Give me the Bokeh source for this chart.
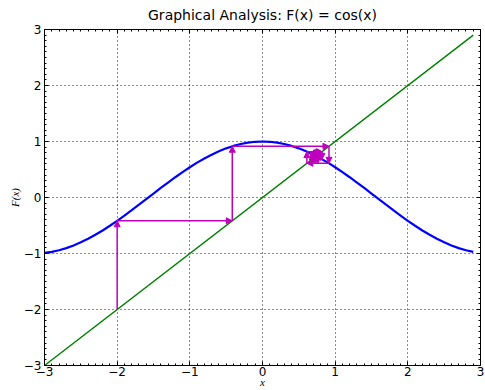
from bokeh.plotting import figure
from bokeh.models import (Range1d, Arrow, NormalHead, ColumnDataSource,
                          LinearAxis, SingleIntervalTicker, FixedTicker)
from bokeh.embed import file_html
from bokeh.resources import INLINE

# ---- data ----
x_curve = [-3.0, -2.9, -2.8, -2.7, -2.6, -2.5, -2.4, -2.3, -2.2, -2.1,
           -2.0, -1.9, -1.8, -1.7, -1.6, -1.5, -1.4, -1.3, -1.2, -1.1,
           -1.0, -0.9, -0.8, -0.7, -0.6, -0.5, -0.4, -0.3, -0.2, -0.1,
           0.0, 0.1, 0.2, 0.3, 0.4, 0.5, 0.6, 0.7, 0.8, 0.9,
           1.0, 1.1, 1.2, 1.3, 1.4, 1.5, 1.6, 1.7, 1.8, 1.9,
           2.0, 2.1, 2.2, 2.3, 2.4, 2.5, 2.6, 2.7, 2.8, 2.9]
y_curve = [-0.990, -0.971, -0.942, -0.904, -0.857, -0.801, -0.737, -0.666, -0.589, -0.505,
           -0.416, -0.323, -0.227, -0.129, -0.029, 0.071, 0.170, 0.267, 0.362, 0.454,
           0.540, 0.622, 0.697, 0.765, 0.825, 0.878, 0.921, 0.955, 0.980, 0.995,
           1.000, 0.995, 0.980, 0.955, 0.921, 0.878, 0.825, 0.765, 0.697, 0.622,
           0.540, 0.454, 0.362, 0.267, 0.170, 0.071, -0.029, -0.129, -0.227, -0.323,
           -0.416, -0.505, -0.589, -0.666, -0.737, -0.801, -0.857, -0.904, -0.942, -0.971]
x_diag = [-3.0, 2.9]
y_diag = [-3.0, 2.9]
iterates = [-2.0, -0.416, 0.915, 0.611, 0.819, 0.683, 0.776, 0.714,
            0.756, 0.728, 0.747, 0.734, 0.743, 0.737, 0.741, 0.738]
tick_values = [-3, -2, -1, 0, 1, 2, 3]
tick_labels = ["\u22123", "\u22122", "\u22121", "0", "1", "2", "3"]
title_text = "Graphical Analysis: F(x) = cos(x)"
x_label = "x"
y_label = "F(x)"

BLUE = "#0000ff"
GREEN = "#008000"
MAG = "#bf00bf"

p = figure(width=485, height=390, x_range=Range1d(-3, 3), y_range=Range1d(-3, 3),
           output_backend="svg", toolbar_location=None,
           min_border_left=44, min_border_right=5, min_border_top=29, min_border_bottom=22,
           background_fill_color="white", border_fill_color="white")
p.outline_line_color = "black"
p.outline_line_width = 1
p.outline_line_alpha = 1

p.title.text = title_text
p.title.text_font = "DejaVu Sans"
p.title.text_font_size = "14px"
p.title.text_font_style = "normal"
p.title.text_color = "black"
p.title.align = "center"
p.title.vertical_align = "top"
p.title.standoff = 10

overrides = {v: s for v, s in zip(tick_values, tick_labels)}


def style_axis(ax):
    ax.ticker = SingleIntervalTicker(interval=1, num_minor_ticks=10)
    ax.major_tick_in = 4
    ax.major_tick_out = 0
    ax.minor_tick_in = 2
    ax.minor_tick_out = 0
    ax.axis_line_color = "black"
    ax.major_tick_line_color = "black"
    ax.minor_tick_line_color = "black"
    ax.major_label_text_font = "DejaVu Sans"
    ax.major_label_text_font_size = "12px"
    ax.major_label_text_color = "black"
    ax.axis_label_text_font = "Liberation Serif"
    ax.axis_label_text_font_style = "italic"
    ax.axis_label_text_font_size = "11px"
    ax.axis_label_text_color = "black"


xa = p.xaxis[0]
style_axis(xa)
xa.major_label_overrides = overrides
xa.major_label_standoff = 1
xa.axis_label = x_label
xa.axis_label_standoff = -3

ya = p.yaxis[0]
style_axis(ya)
ya.major_label_overrides = overrides
ya.major_label_standoff = 3
ya.axis_label = y_label
ya.axis_label_standoff = 0

# tick marks only (no labels) on the top and right edges
minor_positions = [round(t + k / 10, 1) for t in tick_values[:-1] for k in range(1, 10)]
for loc in ("above", "right"):
    for positions, length in ((tick_values, 4), (minor_positions, 2)):
        ax = LinearAxis(ticker=FixedTicker(ticks=[], minor_ticks=positions))
        ax.major_tick_in = 0
        ax.major_tick_out = 0
        ax.minor_tick_in = length
        ax.minor_tick_out = 0
        ax.minor_tick_line_color = "black"
        ax.axis_line_color = "black"
        ax.major_label_standoff = 0
        p.add_layout(ax, loc)

p.xgrid.ticker = xa.ticker
p.ygrid.ticker = ya.ticker
p.grid.grid_line_color = "black"
p.grid.grid_line_dash = "1 3"
p.grid.grid_line_width = 1
p.grid.grid_line_alpha = 0.9

p.line(x_curve, y_curve, line_color=BLUE, line_width=2.2)
p.line(x_diag, y_diag, line_color=GREEN, line_width=1.4)

xs, ys, xe, ye = [], [], [], []
for a, b in zip(iterates[:-1], iterates[1:]):
    xs += [a, a]
    ys += [a, b]
    xe += [a, b]
    ye += [b, b]
src = ColumnDataSource(dict(x_start=xs, y_start=ys, x_end=xe, y_end=ye))
p.add_layout(Arrow(source=src, x_start="x_start", y_start="y_start",
                   x_end="x_end", y_end="y_end",
                   line_color=MAG, line_width=1.5,
                   end=NormalHead(size=6, fill_color=MAG, line_color=MAG, line_width=1)))

open("out.html", "w").write(file_html(p, INLINE))
